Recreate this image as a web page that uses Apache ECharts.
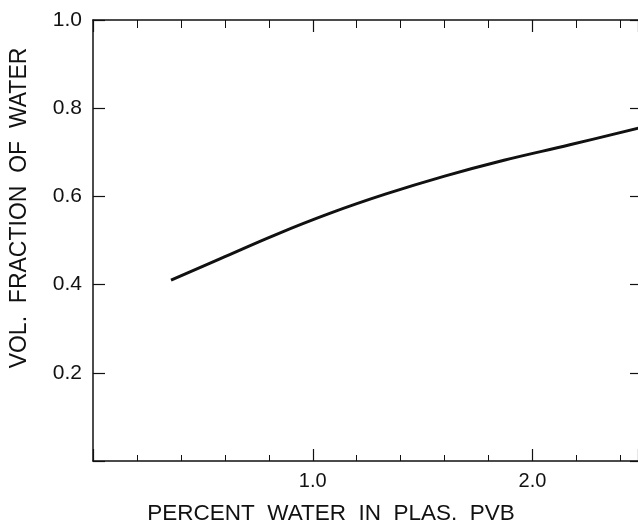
<!DOCTYPE html>
<html>
<head>
<meta charset="utf-8">
<script src="https://cdn.jsdelivr.net/npm/echarts@6/dist/echarts.min.js"></script>
<style>
	html, body { margin: 0; padding: 0; background: #fff; }
	#chart { width: 638px; height: 529px; }
</style>
</head>
<body>
<div id="chart"></div>
<script>
	// curve: percent water in plasticized PVB -> vol. fraction of water
	const percentWater = [0.355, 0.58, 0.83, 1.08, 1.33, 1.6, 1.87, 2.17, 2.5];
	const volFraction = [0.41, 0.459, 0.513, 0.562, 0.605, 0.646, 0.682, 0.717, 0.757];
	const xTickLabels = {1: '1.0', 2: '2.0'};
	const yTickLabels = {0.2: '0.2', 0.4: '0.4', 0.6: '0.6', 0.8: '0.8', 1: '1.0'};
	const xName = 'PERCENT  WATER  IN  PLAS.  PVB';
	const yName = 'VOL.  FRACTION  OF  WATER';

	const ink = '#111';
	const fontFamily = '"Liberation Sans", Arial, sans-serif';

	let myChart = echarts.init(document.getElementById('chart'), null, {renderer: 'canvas'});

	const axisLine = {show: true, onZero: false, lineStyle: {color: ink, width: 1.5}};

	let option = {
		animation: false,
		backgroundColor: '#fff',
		grid: {
			// the scan is cut just before the right frame line, so the plot stops at x = 2.48
			left: 93,
			top: 20,
			right: 0,
			bottom: 68,
			containLabel: false
		},
		xAxis: [{
			type: 'value',
			position: 'bottom',
			min: 0,
			max: 2.48,
			interval: 1,
			axisLine: axisLine,
			axisTick: {show: true, inside: true, length: 12, lineStyle: {color: ink, width: 1.2}},
			minorTick: {show: true, splitNumber: 5, length: 6, lineStyle: {color: ink, width: 1}},
			splitLine: {show: false},
			axisLabel: {
				show: true,
				margin: 10,
				color: ink,
				fontSize: 20,
				fontFamily: fontFamily,
				showMaxLabel: false,
				formatter: v => xTickLabels[v] || ''
			}
		}, {
			type: 'value',
			position: 'top',
			min: 0,
			max: 2.48,
			interval: 1,
			axisLine: axisLine,
			axisTick: {show: true, inside: true, length: 12, lineStyle: {color: ink, width: 1.2}},
			minorTick: {show: true, splitNumber: 5, length: 8, lineStyle: {color: ink, width: 1}},
			splitLine: {show: false},
			axisLabel: {show: false}
		}],
		yAxis: [{
			type: 'value',
			position: 'left',
			min: 0,
			max: 1,
			interval: 0.2,
			axisLine: axisLine,
			axisTick: {show: true, inside: true, length: 12, lineStyle: {color: ink, width: 1.2}},
			splitLine: {show: false},
			axisLabel: {
				show: true,
				margin: 11,
				color: ink,
				fontSize: 21,
				fontFamily: fontFamily,
				formatter: v => yTickLabels[Math.round(v * 10) / 10] || ''
			}
		}, {
			type: 'value',
			position: 'right',
			min: 0,
			max: 1,
			interval: 0.2,
			axisLine: {show: false, onZero: false},
			axisTick: {show: true, inside: true, length: 8, lineStyle: {color: ink, width: 1.2}},
			splitLine: {show: false},
			axisLabel: {show: false}
		}],
		graphic: [{
			type: 'text',
			x: 331,
			y: 514,
			style: {
				text: xName,
				fill: ink,
				font: '22.5px ' + fontFamily,
				textAlign: 'center',
				textVerticalAlign: 'middle'
			}
		}, {
			type: 'text',
			x: 20,
			y: 208,
			rotation: Math.PI / 2,
			style: {
				text: yName,
				fill: ink,
				font: '23px ' + fontFamily,
				textAlign: 'center',
				textVerticalAlign: 'middle'
			}
		}],
		series: [{
			type: 'line',
			xAxisIndex: 0,
			yAxisIndex: 0,
			data: percentWater.map((x, i) => [x, volFraction[i]]),
			smooth: 0.4,
			showSymbol: false,
			lineStyle: {color: ink, width: 3},
			clip: true
		}]
	};
	myChart.setOption(option);
</script>
</body>
</html>
